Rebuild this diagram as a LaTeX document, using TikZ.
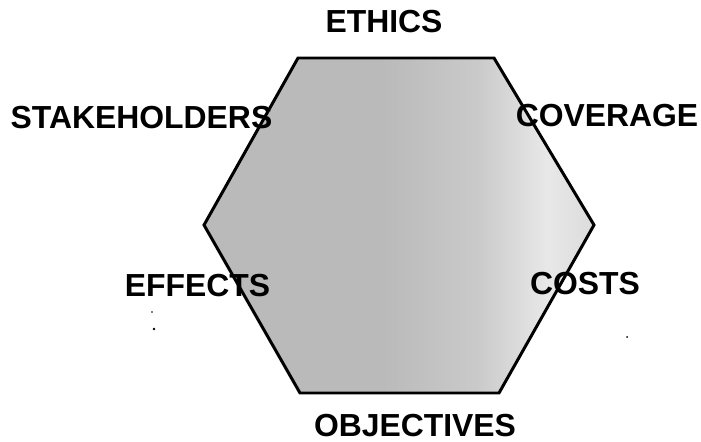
\documentclass[tikz,border=0pt]{standalone}
\usepackage{fontspec}
\setmainfont{Liberation Sans}
\pgfdeclarehorizontalshading{hexshade}{100bp}{color(0bp)=(black!27); color(48bp)=(black!27); color(60bp)=(black!21); color(69bp)=(black!9); color(75bp)=(black!14); color(100bp)=(black!14)}
\tikzset{
  hexline/.style={line width=3pt, line join=miter, draw=black, shading=hexshade},
  lab/.style={anchor=base, inner sep=0pt, font=\fontsize{32}{36}\selectfont\bfseries},
  speck/.style={fill=black, circle, inner sep=0pt, minimum size=2.6pt}
}
\begin{document}
\begin{tikzpicture}[x=1bp,y=-1bp]
\useasboundingbox (0,0) rectangle (701,442);
\coordinate (tl) at (298,58);
\coordinate (tr) at (494,58);
\coordinate (r) at (594,225);
\coordinate (br) at (499,393);
\coordinate (bl) at (300,393);
\coordinate (l) at (204,225);
\path[hexline] (tl) -- (tr) -- (r) -- (br) -- (bl) -- (l) -- cycle;
\node[lab] (ethics) at (384,33) {ETHICS};
\node[lab] (stake) at (141.5,129) {STAKEHOLDERS};
\node[lab] (cover) at (607,127) {COVERAGE};
\node[lab] (effects) at (197.5,297) {EFFECTS};
\node[lab] (costs) at (585,295) {COSTS};
\node[lab] (obj) at (415,436) {OBJECTIVES};
\node[speck, minimum size=1.8pt] (d1) at (152,312) {};
\node[speck] (d2) at (154,329) {};
\node[speck, minimum size=2pt] (d3) at (627,337) {};
\end{tikzpicture}
\end{document}
